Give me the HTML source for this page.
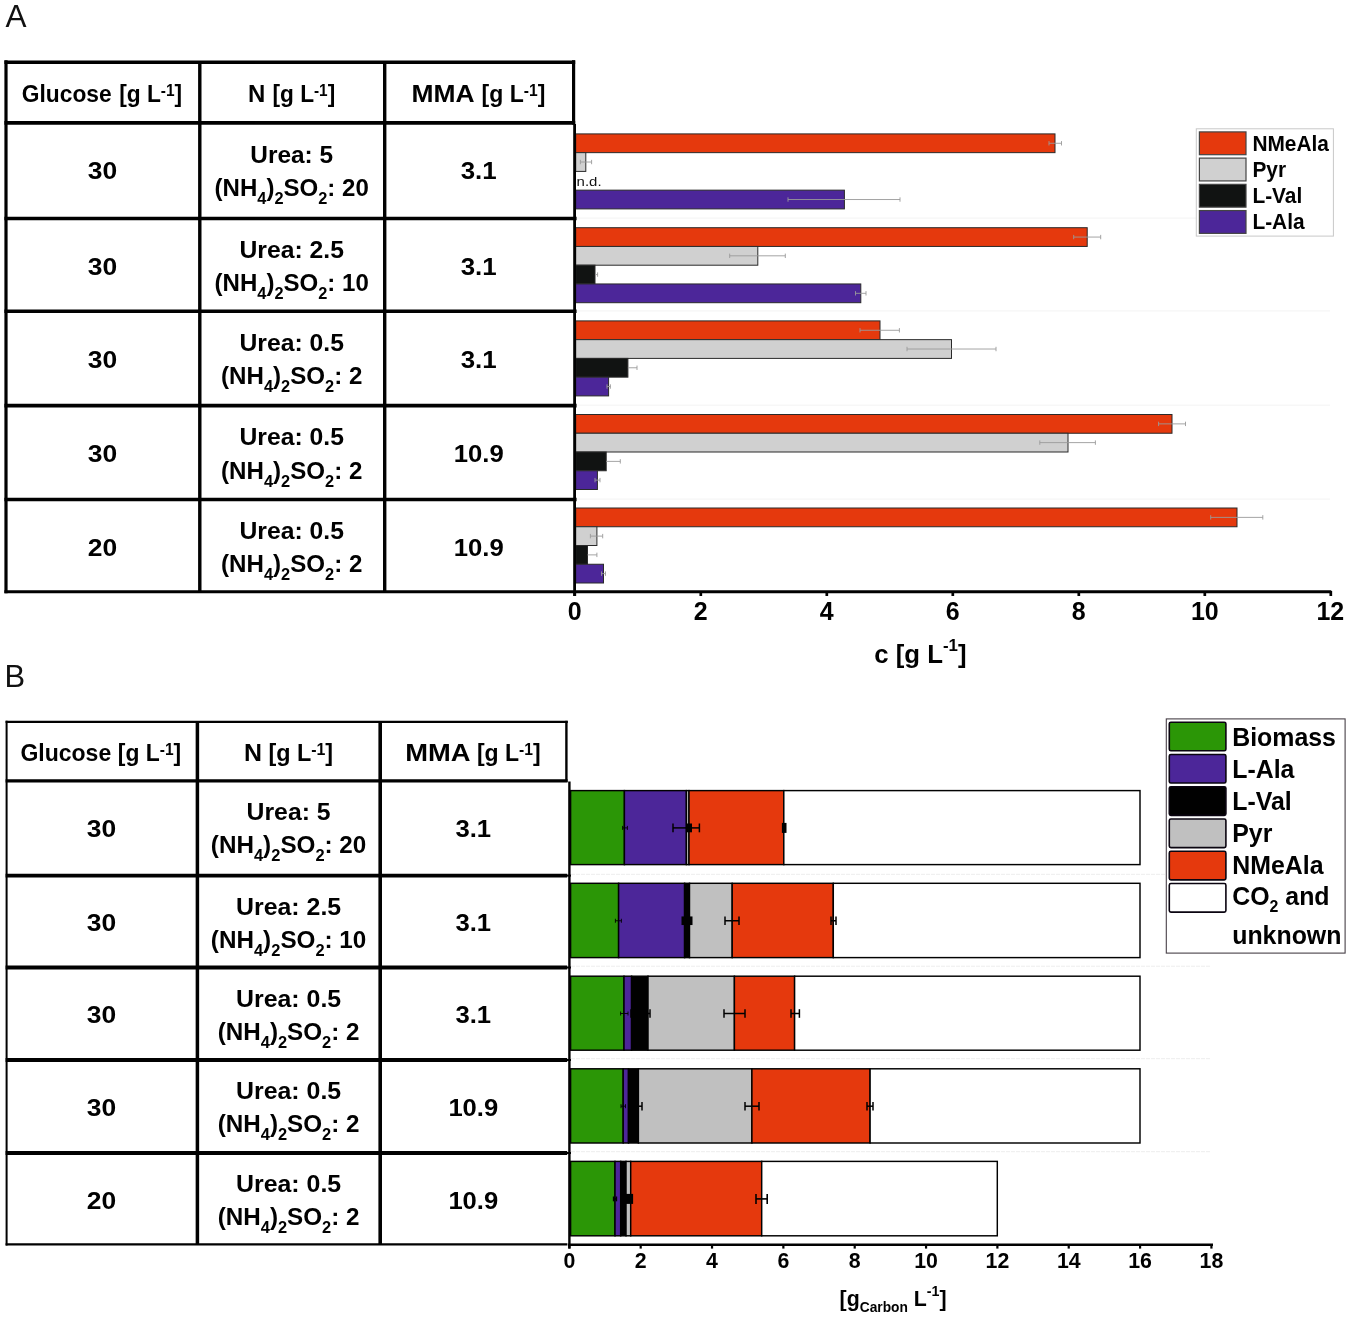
<!DOCTYPE html>
<html><head><meta charset="utf-8"><title>Figure</title>
<style>
html,body{margin:0;padding:0;background:#fff;}
body{width:1350px;height:1317px;overflow:hidden;}
svg{display:block;font-family:"Liberation Sans",sans-serif;will-change:transform;opacity:0.9999;}
</style></head><body>
<svg width="1350" height="1317" viewBox="0 0 1350 1317" font-family="Liberation Sans, sans-serif">
<rect x="0" y="0" width="1350" height="1317" fill="#fff"/>
<text x="5.4" y="27" font-size="31.5" font-weight="normal" fill="#111">A</text>
<text x="4.6" y="687" font-size="31.2" font-weight="normal" fill="#111" textLength="20.6" lengthAdjust="spacingAndGlyphs">B</text>
<line x1="4.40" y1="62.20" x2="575.20" y2="62.20" stroke="#000" stroke-width="3.5" />
<line x1="4.40" y1="122.80" x2="575.20" y2="122.80" stroke="#000" stroke-width="3.8" />
<line x1="4.40" y1="218.50" x2="576.60" y2="218.50" stroke="#000" stroke-width="3.6" />
<line x1="4.40" y1="311.30" x2="576.60" y2="311.30" stroke="#000" stroke-width="3.6" />
<line x1="4.40" y1="405.60" x2="576.60" y2="405.60" stroke="#000" stroke-width="3.6" />
<line x1="4.40" y1="499.50" x2="576.60" y2="499.50" stroke="#000" stroke-width="3.6" />
<line x1="4.40" y1="591.80" x2="1331.30" y2="591.80" stroke="#000" stroke-width="3.0" />
<line x1="6.00" y1="60.20" x2="6.00" y2="593.20" stroke="#000" stroke-width="3.2" />
<line x1="199.80" y1="62.00" x2="199.80" y2="592.00" stroke="#000" stroke-width="3.4" />
<line x1="384.70" y1="62.00" x2="384.70" y2="592.00" stroke="#000" stroke-width="3.4" />
<line x1="573.60" y1="60.20" x2="573.60" y2="124.60" stroke="#000" stroke-width="3.2" />
<line x1="574.70" y1="124.00" x2="574.70" y2="596.00" stroke="#000" stroke-width="2.5" />
<text x="21.80" y="102.00" font-size="24.7" font-weight="bold" fill="#000" textLength="89.80" lengthAdjust="spacingAndGlyphs" >Glucose</text>
<text x="119.20" y="102.00" font-size="24.7" font-weight="bold" fill="#000" textLength="63.00" lengthAdjust="spacingAndGlyphs" >[g L<tspan font-size="16.8" dy="-5.6">-1</tspan><tspan dy="5.6">]</tspan></text>
<text x="247.90" y="102.00" font-size="24.7" font-weight="bold" fill="#000" textLength="17.30" lengthAdjust="spacingAndGlyphs" >N</text>
<text x="272.50" y="102.00" font-size="24.7" font-weight="bold" fill="#000" textLength="62.70" lengthAdjust="spacingAndGlyphs" >[g L<tspan font-size="16.8" dy="-5.6">-1</tspan><tspan dy="5.6">]</tspan></text>
<text x="411.50" y="102.00" font-size="24.7" font-weight="bold" fill="#000" textLength="63.10" lengthAdjust="spacingAndGlyphs" >MMA</text>
<text x="481.60" y="102.00" font-size="24.7" font-weight="bold" fill="#000" textLength="63.70" lengthAdjust="spacingAndGlyphs" >[g L<tspan font-size="16.8" dy="-5.6">-1</tspan><tspan dy="5.6">]</tspan></text>
<text x="87.80" y="179.00" font-size="24.7" font-weight="bold" fill="#000" textLength="29.40" lengthAdjust="spacingAndGlyphs" >30</text>
<text x="250.30" y="162.50" font-size="24.7" font-weight="bold" fill="#000" textLength="82.80" lengthAdjust="spacingAndGlyphs" >Urea: 5</text>
<text x="214.60" y="195.70" font-size="24.7" font-weight="bold" fill="#000" textLength="154.20" lengthAdjust="spacingAndGlyphs" >(NH<tspan font-size="16.8" dy="8">4</tspan><tspan dy="-8">)</tspan><tspan font-size="16.8" dy="8">2</tspan><tspan dy="-8">SO</tspan><tspan font-size="16.8" dy="8">2</tspan><tspan dy="-8">: 20</tspan></text>
<text x="460.70" y="179.00" font-size="24.7" font-weight="bold" fill="#000" textLength="36.00" lengthAdjust="spacingAndGlyphs" >3.1</text>
<text x="87.80" y="274.70" font-size="24.7" font-weight="bold" fill="#000" textLength="29.40" lengthAdjust="spacingAndGlyphs" >30</text>
<text x="239.50" y="258.20" font-size="24.7" font-weight="bold" fill="#000" textLength="104.40" lengthAdjust="spacingAndGlyphs" >Urea: 2.5</text>
<text x="214.60" y="291.40" font-size="24.7" font-weight="bold" fill="#000" textLength="154.20" lengthAdjust="spacingAndGlyphs" >(NH<tspan font-size="16.8" dy="8">4</tspan><tspan dy="-8">)</tspan><tspan font-size="16.8" dy="8">2</tspan><tspan dy="-8">SO</tspan><tspan font-size="16.8" dy="8">2</tspan><tspan dy="-8">: 10</tspan></text>
<text x="460.70" y="274.70" font-size="24.7" font-weight="bold" fill="#000" textLength="36.00" lengthAdjust="spacingAndGlyphs" >3.1</text>
<text x="87.80" y="367.50" font-size="24.7" font-weight="bold" fill="#000" textLength="29.40" lengthAdjust="spacingAndGlyphs" >30</text>
<text x="239.50" y="351.00" font-size="24.7" font-weight="bold" fill="#000" textLength="104.40" lengthAdjust="spacingAndGlyphs" >Urea: 0.5</text>
<text x="221.10" y="384.20" font-size="24.7" font-weight="bold" fill="#000" textLength="141.20" lengthAdjust="spacingAndGlyphs" >(NH<tspan font-size="16.8" dy="8">4</tspan><tspan dy="-8">)</tspan><tspan font-size="16.8" dy="8">2</tspan><tspan dy="-8">SO</tspan><tspan font-size="16.8" dy="8">2</tspan><tspan dy="-8">: 2</tspan></text>
<text x="460.70" y="367.50" font-size="24.7" font-weight="bold" fill="#000" textLength="36.00" lengthAdjust="spacingAndGlyphs" >3.1</text>
<text x="87.80" y="461.80" font-size="24.7" font-weight="bold" fill="#000" textLength="29.40" lengthAdjust="spacingAndGlyphs" >30</text>
<text x="239.50" y="445.30" font-size="24.7" font-weight="bold" fill="#000" textLength="104.40" lengthAdjust="spacingAndGlyphs" >Urea: 0.5</text>
<text x="221.10" y="478.50" font-size="24.7" font-weight="bold" fill="#000" textLength="141.20" lengthAdjust="spacingAndGlyphs" >(NH<tspan font-size="16.8" dy="8">4</tspan><tspan dy="-8">)</tspan><tspan font-size="16.8" dy="8">2</tspan><tspan dy="-8">SO</tspan><tspan font-size="16.8" dy="8">2</tspan><tspan dy="-8">: 2</tspan></text>
<text x="453.70" y="461.80" font-size="24.7" font-weight="bold" fill="#000" textLength="50.00" lengthAdjust="spacingAndGlyphs" >10.9</text>
<text x="87.80" y="555.70" font-size="24.7" font-weight="bold" fill="#000" textLength="29.40" lengthAdjust="spacingAndGlyphs" >20</text>
<text x="239.50" y="539.20" font-size="24.7" font-weight="bold" fill="#000" textLength="104.40" lengthAdjust="spacingAndGlyphs" >Urea: 0.5</text>
<text x="221.10" y="572.40" font-size="24.7" font-weight="bold" fill="#000" textLength="141.20" lengthAdjust="spacingAndGlyphs" >(NH<tspan font-size="16.8" dy="8">4</tspan><tspan dy="-8">)</tspan><tspan font-size="16.8" dy="8">2</tspan><tspan dy="-8">SO</tspan><tspan font-size="16.8" dy="8">2</tspan><tspan dy="-8">: 2</tspan></text>
<text x="453.70" y="555.70" font-size="24.7" font-weight="bold" fill="#000" textLength="50.00" lengthAdjust="spacingAndGlyphs" >10.9</text>
<line x1="577.00" y1="218.10" x2="1330.00" y2="218.10" stroke="#f3f3f3" stroke-width="1" />
<line x1="577.00" y1="310.90" x2="1330.00" y2="310.90" stroke="#f3f3f3" stroke-width="1" />
<line x1="577.00" y1="405.20" x2="1330.00" y2="405.20" stroke="#f3f3f3" stroke-width="1" />
<line x1="577.00" y1="499.10" x2="1330.00" y2="499.10" stroke="#f3f3f3" stroke-width="1" />
<rect x="575.70" y="133.90" width="479.30" height="18.75" fill="#E5390D" stroke="#2a2a2a" stroke-width="1.0"/>
<rect x="575.70" y="152.65" width="10.10" height="18.75" fill="#D0D0D0" stroke="#2a2a2a" stroke-width="1.0"/>
<rect x="575.70" y="190.15" width="268.70" height="18.75" fill="#4C2699" stroke="#2a2a2a" stroke-width="1.0"/>
<line x1="1049.00" y1="143.28" x2="1061.50" y2="143.28" stroke="#9a9a9a" stroke-width="0.9" />
<line x1="1049.00" y1="141.08" x2="1049.00" y2="145.47" stroke="#9a9a9a" stroke-width="0.9" />
<line x1="1061.50" y1="141.08" x2="1061.50" y2="145.47" stroke="#9a9a9a" stroke-width="0.9" />
<line x1="580.40" y1="162.03" x2="591.60" y2="162.03" stroke="#9a9a9a" stroke-width="0.9" />
<line x1="580.40" y1="159.83" x2="580.40" y2="164.22" stroke="#9a9a9a" stroke-width="0.9" />
<line x1="591.60" y1="159.83" x2="591.60" y2="164.22" stroke="#9a9a9a" stroke-width="0.9" />
<line x1="788.00" y1="199.53" x2="900.00" y2="199.53" stroke="#9a9a9a" stroke-width="0.9" />
<line x1="788.00" y1="197.33" x2="788.00" y2="201.72" stroke="#9a9a9a" stroke-width="0.9" />
<line x1="900.00" y1="197.33" x2="900.00" y2="201.72" stroke="#9a9a9a" stroke-width="0.9" />
<rect x="575.70" y="227.70" width="511.50" height="18.75" fill="#E5390D" stroke="#2a2a2a" stroke-width="1.0"/>
<rect x="575.70" y="246.45" width="182.10" height="18.75" fill="#D0D0D0" stroke="#2a2a2a" stroke-width="1.0"/>
<rect x="575.70" y="265.20" width="19.30" height="18.75" fill="#111312" stroke="#2a2a2a" stroke-width="1.0"/>
<rect x="575.70" y="283.95" width="285.10" height="18.75" fill="#4C2699" stroke="#2a2a2a" stroke-width="1.0"/>
<line x1="1073.70" y1="237.07" x2="1100.70" y2="237.07" stroke="#9a9a9a" stroke-width="0.9" />
<line x1="1073.70" y1="234.88" x2="1073.70" y2="239.27" stroke="#9a9a9a" stroke-width="0.9" />
<line x1="1100.70" y1="234.88" x2="1100.70" y2="239.27" stroke="#9a9a9a" stroke-width="0.9" />
<line x1="729.70" y1="255.82" x2="785.30" y2="255.82" stroke="#9a9a9a" stroke-width="0.9" />
<line x1="729.70" y1="253.62" x2="729.70" y2="258.02" stroke="#9a9a9a" stroke-width="0.9" />
<line x1="785.30" y1="253.62" x2="785.30" y2="258.02" stroke="#9a9a9a" stroke-width="0.9" />
<line x1="595.00" y1="274.57" x2="597.60" y2="274.57" stroke="#9a9a9a" stroke-width="0.9" />
<line x1="597.60" y1="272.38" x2="597.60" y2="276.77" stroke="#9a9a9a" stroke-width="0.9" />
<line x1="855.50" y1="293.32" x2="866.00" y2="293.32" stroke="#9a9a9a" stroke-width="0.9" />
<line x1="855.50" y1="291.12" x2="855.50" y2="295.52" stroke="#9a9a9a" stroke-width="0.9" />
<line x1="866.00" y1="291.12" x2="866.00" y2="295.52" stroke="#9a9a9a" stroke-width="0.9" />
<rect x="575.70" y="320.90" width="304.30" height="18.75" fill="#E5390D" stroke="#2a2a2a" stroke-width="1.0"/>
<rect x="575.70" y="339.65" width="375.80" height="18.75" fill="#D0D0D0" stroke="#2a2a2a" stroke-width="1.0"/>
<rect x="575.70" y="358.40" width="52.20" height="18.75" fill="#111312" stroke="#2a2a2a" stroke-width="1.0"/>
<rect x="575.70" y="377.15" width="32.90" height="18.75" fill="#4C2699" stroke="#2a2a2a" stroke-width="1.0"/>
<line x1="860.00" y1="330.27" x2="899.40" y2="330.27" stroke="#9a9a9a" stroke-width="0.9" />
<line x1="860.00" y1="328.07" x2="860.00" y2="332.47" stroke="#9a9a9a" stroke-width="0.9" />
<line x1="899.40" y1="328.07" x2="899.40" y2="332.47" stroke="#9a9a9a" stroke-width="0.9" />
<line x1="907.00" y1="349.02" x2="996.00" y2="349.02" stroke="#9a9a9a" stroke-width="0.9" />
<line x1="907.00" y1="346.82" x2="907.00" y2="351.22" stroke="#9a9a9a" stroke-width="0.9" />
<line x1="996.00" y1="346.82" x2="996.00" y2="351.22" stroke="#9a9a9a" stroke-width="0.9" />
<line x1="627.90" y1="367.77" x2="637.00" y2="367.77" stroke="#9a9a9a" stroke-width="0.9" />
<line x1="637.00" y1="365.57" x2="637.00" y2="369.97" stroke="#9a9a9a" stroke-width="0.9" />
<line x1="607.00" y1="386.52" x2="610.40" y2="386.52" stroke="#9a9a9a" stroke-width="0.9" />
<line x1="607.00" y1="384.32" x2="607.00" y2="388.72" stroke="#9a9a9a" stroke-width="0.9" />
<line x1="610.40" y1="384.32" x2="610.40" y2="388.72" stroke="#9a9a9a" stroke-width="0.9" />
<rect x="575.70" y="414.50" width="596.30" height="18.75" fill="#E5390D" stroke="#2a2a2a" stroke-width="1.0"/>
<rect x="575.70" y="433.25" width="492.30" height="18.75" fill="#D0D0D0" stroke="#2a2a2a" stroke-width="1.0"/>
<rect x="575.70" y="452.00" width="30.50" height="18.75" fill="#111312" stroke="#2a2a2a" stroke-width="1.0"/>
<rect x="575.70" y="470.75" width="21.70" height="18.75" fill="#4C2699" stroke="#2a2a2a" stroke-width="1.0"/>
<line x1="1158.60" y1="423.88" x2="1185.50" y2="423.88" stroke="#9a9a9a" stroke-width="0.9" />
<line x1="1158.60" y1="421.68" x2="1158.60" y2="426.07" stroke="#9a9a9a" stroke-width="0.9" />
<line x1="1185.50" y1="421.68" x2="1185.50" y2="426.07" stroke="#9a9a9a" stroke-width="0.9" />
<line x1="1039.80" y1="442.62" x2="1095.40" y2="442.62" stroke="#9a9a9a" stroke-width="0.9" />
<line x1="1039.80" y1="440.43" x2="1039.80" y2="444.82" stroke="#9a9a9a" stroke-width="0.9" />
<line x1="1095.40" y1="440.43" x2="1095.40" y2="444.82" stroke="#9a9a9a" stroke-width="0.9" />
<line x1="606.20" y1="461.38" x2="620.30" y2="461.38" stroke="#9a9a9a" stroke-width="0.9" />
<line x1="620.30" y1="459.18" x2="620.30" y2="463.57" stroke="#9a9a9a" stroke-width="0.9" />
<line x1="595.00" y1="480.12" x2="600.00" y2="480.12" stroke="#9a9a9a" stroke-width="0.9" />
<line x1="595.00" y1="477.93" x2="595.00" y2="482.32" stroke="#9a9a9a" stroke-width="0.9" />
<line x1="600.00" y1="477.93" x2="600.00" y2="482.32" stroke="#9a9a9a" stroke-width="0.9" />
<rect x="575.70" y="508.00" width="661.30" height="18.75" fill="#E5390D" stroke="#2a2a2a" stroke-width="1.0"/>
<rect x="575.70" y="526.75" width="21.20" height="18.75" fill="#D0D0D0" stroke="#2a2a2a" stroke-width="1.0"/>
<rect x="575.70" y="545.50" width="11.80" height="18.75" fill="#111312" stroke="#2a2a2a" stroke-width="1.0"/>
<rect x="575.70" y="564.25" width="27.80" height="18.75" fill="#4C2699" stroke="#2a2a2a" stroke-width="1.0"/>
<line x1="1210.70" y1="517.38" x2="1262.80" y2="517.38" stroke="#9a9a9a" stroke-width="0.9" />
<line x1="1210.70" y1="515.17" x2="1210.70" y2="519.58" stroke="#9a9a9a" stroke-width="0.9" />
<line x1="1262.80" y1="515.17" x2="1262.80" y2="519.58" stroke="#9a9a9a" stroke-width="0.9" />
<line x1="590.40" y1="536.12" x2="602.70" y2="536.12" stroke="#9a9a9a" stroke-width="0.9" />
<line x1="590.40" y1="533.92" x2="590.40" y2="538.33" stroke="#9a9a9a" stroke-width="0.9" />
<line x1="602.70" y1="533.92" x2="602.70" y2="538.33" stroke="#9a9a9a" stroke-width="0.9" />
<line x1="587.50" y1="554.88" x2="596.90" y2="554.88" stroke="#9a9a9a" stroke-width="0.9" />
<line x1="596.90" y1="552.67" x2="596.90" y2="557.08" stroke="#9a9a9a" stroke-width="0.9" />
<line x1="601.50" y1="573.62" x2="605.50" y2="573.62" stroke="#9a9a9a" stroke-width="0.9" />
<line x1="601.50" y1="571.42" x2="601.50" y2="575.83" stroke="#9a9a9a" stroke-width="0.9" />
<line x1="605.50" y1="571.42" x2="605.50" y2="575.83" stroke="#9a9a9a" stroke-width="0.9" />
<text x="576.60" y="186.40" font-size="13.5" font-weight="normal" fill="#111" textLength="25.00" lengthAdjust="spacingAndGlyphs" >n.d.</text>
<line x1="574.70" y1="124.00" x2="574.70" y2="596.00" stroke="#000" stroke-width="2.5" />
<line x1="574.80" y1="591.00" x2="574.80" y2="596.00" stroke="#000" stroke-width="2.7" />
<text transform="translate(574.80,620.00) scale(0.9600,1)" font-size="26" font-weight="bold" fill="#000" text-anchor="middle">0</text>
<line x1="700.80" y1="591.00" x2="700.80" y2="596.00" stroke="#000" stroke-width="2.7" />
<text transform="translate(700.80,620.00) scale(0.9600,1)" font-size="26" font-weight="bold" fill="#000" text-anchor="middle">2</text>
<line x1="826.80" y1="591.00" x2="826.80" y2="596.00" stroke="#000" stroke-width="2.7" />
<text transform="translate(826.80,620.00) scale(0.9600,1)" font-size="26" font-weight="bold" fill="#000" text-anchor="middle">4</text>
<line x1="952.80" y1="591.00" x2="952.80" y2="596.00" stroke="#000" stroke-width="2.7" />
<text transform="translate(952.80,620.00) scale(0.9600,1)" font-size="26" font-weight="bold" fill="#000" text-anchor="middle">6</text>
<line x1="1078.80" y1="591.00" x2="1078.80" y2="596.00" stroke="#000" stroke-width="2.7" />
<text transform="translate(1078.80,620.00) scale(0.9600,1)" font-size="26" font-weight="bold" fill="#000" text-anchor="middle">8</text>
<line x1="1204.80" y1="591.00" x2="1204.80" y2="596.00" stroke="#000" stroke-width="2.7" />
<text transform="translate(1204.80,620.00) scale(0.9600,1)" font-size="26" font-weight="bold" fill="#000" text-anchor="middle">10</text>
<line x1="1330.80" y1="591.00" x2="1330.80" y2="596.00" stroke="#000" stroke-width="2.7" />
<text transform="translate(1330.30,620.00) scale(0.9600,1)" font-size="26" font-weight="bold" fill="#000" text-anchor="middle">12</text>
<text x="874.30" y="662.60" font-size="25.4" font-weight="bold" fill="#000" textLength="92.30" lengthAdjust="spacingAndGlyphs" >c [g L<tspan font-size="16.6" dy="-11.2">-1</tspan><tspan dy="11.2">]</tspan></text>
<rect x="1196.30" y="128.80" width="137.10" height="107.30" fill="#fff" stroke="#c8c8c8" stroke-width="1.0"/>
<rect x="1199.40" y="131.90" width="46.60" height="22.80" fill="#E5390D" stroke="#444" stroke-width="1.2"/>
<text transform="translate(1252.40,150.90) scale(0.9760,1)" font-size="21.4" font-weight="bold" fill="#000" text-anchor="start">NMeAla</text>
<rect x="1199.40" y="158.12" width="46.60" height="22.80" fill="#D0D0D0" stroke="#444" stroke-width="1.2"/>
<text transform="translate(1252.40,176.95) scale(0.9760,1)" font-size="21.4" font-weight="bold" fill="#000" text-anchor="start">Pyr</text>
<rect x="1199.40" y="184.34" width="46.60" height="22.80" fill="#111312" stroke="#444" stroke-width="1.2"/>
<text transform="translate(1252.40,203.00) scale(0.9760,1)" font-size="21.4" font-weight="bold" fill="#000" text-anchor="start">L-Val</text>
<rect x="1199.40" y="210.56" width="46.60" height="22.80" fill="#4C2699" stroke="#444" stroke-width="1.2"/>
<text transform="translate(1252.40,229.05) scale(0.9760,1)" font-size="21.4" font-weight="bold" fill="#000" text-anchor="start">L-Ala</text>
<line x1="5.60" y1="721.90" x2="567.80" y2="721.90" stroke="#000" stroke-width="2.4" />
<line x1="5.60" y1="780.90" x2="567.60" y2="780.90" stroke="#000" stroke-width="3.4" />
<line x1="5.60" y1="875.60" x2="567.20" y2="875.60" stroke="#000" stroke-width="3.8" />
<line x1="567.00" y1="875.60" x2="571.00" y2="875.60" stroke="#000" stroke-width="2.0" />
<line x1="5.60" y1="967.50" x2="567.20" y2="967.50" stroke="#000" stroke-width="3.8" />
<line x1="567.00" y1="967.50" x2="571.00" y2="967.50" stroke="#000" stroke-width="2.0" />
<line x1="5.60" y1="1060.00" x2="567.20" y2="1060.00" stroke="#000" stroke-width="3.8" />
<line x1="567.00" y1="1060.00" x2="571.00" y2="1060.00" stroke="#000" stroke-width="2.0" />
<line x1="5.60" y1="1153.00" x2="567.20" y2="1153.00" stroke="#000" stroke-width="3.8" />
<line x1="567.00" y1="1153.00" x2="571.00" y2="1153.00" stroke="#000" stroke-width="2.0" />
<line x1="5.60" y1="1244.40" x2="567.40" y2="1244.40" stroke="#000" stroke-width="2.2" />
<line x1="6.60" y1="720.80" x2="6.60" y2="1245.50" stroke="#000" stroke-width="2.0" />
<line x1="197.40" y1="722.00" x2="197.40" y2="1245.00" stroke="#000" stroke-width="3.5" />
<line x1="380.20" y1="722.00" x2="380.20" y2="1245.00" stroke="#000" stroke-width="3.6" />
<line x1="566.40" y1="720.80" x2="566.40" y2="782.00" stroke="#000" stroke-width="2.4" />
<text x="20.40" y="760.60" font-size="24.7" font-weight="bold" fill="#000" textLength="90.80" lengthAdjust="spacingAndGlyphs" >Glucose</text>
<text x="117.80" y="760.60" font-size="24.7" font-weight="bold" fill="#000" textLength="63.40" lengthAdjust="spacingAndGlyphs" >[g L<tspan font-size="16.8" dy="-5.6">-1</tspan><tspan dy="5.6">]</tspan></text>
<text x="244.10" y="760.60" font-size="24.7" font-weight="bold" fill="#000" textLength="18.00" lengthAdjust="spacingAndGlyphs" >N</text>
<text x="268.40" y="760.60" font-size="24.7" font-weight="bold" fill="#000" textLength="64.70" lengthAdjust="spacingAndGlyphs" >[g L<tspan font-size="16.8" dy="-5.6">-1</tspan><tspan dy="5.6">]</tspan></text>
<text x="405.30" y="760.60" font-size="24.7" font-weight="bold" fill="#000" textLength="65.30" lengthAdjust="spacingAndGlyphs" >MMA</text>
<text x="476.90" y="760.60" font-size="24.7" font-weight="bold" fill="#000" textLength="63.70" lengthAdjust="spacingAndGlyphs" >[g L<tspan font-size="16.8" dy="-5.6">-1</tspan><tspan dy="5.6">]</tspan></text>
<text x="86.80" y="836.50" font-size="24.7" font-weight="bold" fill="#000" textLength="29.40" lengthAdjust="spacingAndGlyphs" >30</text>
<text x="246.60" y="820.10" font-size="24.7" font-weight="bold" fill="#000" textLength="84.00" lengthAdjust="spacingAndGlyphs" >Urea: 5</text>
<text x="210.85" y="852.90" font-size="24.7" font-weight="bold" fill="#000" textLength="155.50" lengthAdjust="spacingAndGlyphs" >(NH<tspan font-size="16.8" dy="8">4</tspan><tspan dy="-8">)</tspan><tspan font-size="16.8" dy="8">2</tspan><tspan dy="-8">SO</tspan><tspan font-size="16.8" dy="8">2</tspan><tspan dy="-8">: 20</tspan></text>
<text x="455.45" y="836.50" font-size="24.7" font-weight="bold" fill="#000" textLength="35.70" lengthAdjust="spacingAndGlyphs" >3.1</text>
<text x="86.80" y="931.20" font-size="24.7" font-weight="bold" fill="#000" textLength="29.40" lengthAdjust="spacingAndGlyphs" >30</text>
<text x="236.05" y="914.80" font-size="24.7" font-weight="bold" fill="#000" textLength="105.10" lengthAdjust="spacingAndGlyphs" >Urea: 2.5</text>
<text x="210.85" y="947.60" font-size="24.7" font-weight="bold" fill="#000" textLength="155.50" lengthAdjust="spacingAndGlyphs" >(NH<tspan font-size="16.8" dy="8">4</tspan><tspan dy="-8">)</tspan><tspan font-size="16.8" dy="8">2</tspan><tspan dy="-8">SO</tspan><tspan font-size="16.8" dy="8">2</tspan><tspan dy="-8">: 10</tspan></text>
<text x="455.45" y="931.20" font-size="24.7" font-weight="bold" fill="#000" textLength="35.70" lengthAdjust="spacingAndGlyphs" >3.1</text>
<text x="86.80" y="1023.10" font-size="24.7" font-weight="bold" fill="#000" textLength="29.40" lengthAdjust="spacingAndGlyphs" >30</text>
<text x="236.05" y="1006.70" font-size="24.7" font-weight="bold" fill="#000" textLength="105.10" lengthAdjust="spacingAndGlyphs" >Urea: 0.5</text>
<text x="217.70" y="1039.50" font-size="24.7" font-weight="bold" fill="#000" textLength="141.80" lengthAdjust="spacingAndGlyphs" >(NH<tspan font-size="16.8" dy="8">4</tspan><tspan dy="-8">)</tspan><tspan font-size="16.8" dy="8">2</tspan><tspan dy="-8">SO</tspan><tspan font-size="16.8" dy="8">2</tspan><tspan dy="-8">: 2</tspan></text>
<text x="455.45" y="1023.10" font-size="24.7" font-weight="bold" fill="#000" textLength="35.70" lengthAdjust="spacingAndGlyphs" >3.1</text>
<text x="86.80" y="1115.60" font-size="24.7" font-weight="bold" fill="#000" textLength="29.40" lengthAdjust="spacingAndGlyphs" >30</text>
<text x="236.05" y="1099.20" font-size="24.7" font-weight="bold" fill="#000" textLength="105.10" lengthAdjust="spacingAndGlyphs" >Urea: 0.5</text>
<text x="217.70" y="1132.00" font-size="24.7" font-weight="bold" fill="#000" textLength="141.80" lengthAdjust="spacingAndGlyphs" >(NH<tspan font-size="16.8" dy="8">4</tspan><tspan dy="-8">)</tspan><tspan font-size="16.8" dy="8">2</tspan><tspan dy="-8">SO</tspan><tspan font-size="16.8" dy="8">2</tspan><tspan dy="-8">: 2</tspan></text>
<text x="448.40" y="1115.60" font-size="24.7" font-weight="bold" fill="#000" textLength="49.80" lengthAdjust="spacingAndGlyphs" >10.9</text>
<text x="86.80" y="1208.60" font-size="24.7" font-weight="bold" fill="#000" textLength="29.40" lengthAdjust="spacingAndGlyphs" >20</text>
<text x="236.05" y="1192.20" font-size="24.7" font-weight="bold" fill="#000" textLength="105.10" lengthAdjust="spacingAndGlyphs" >Urea: 0.5</text>
<text x="217.70" y="1225.00" font-size="24.7" font-weight="bold" fill="#000" textLength="141.80" lengthAdjust="spacingAndGlyphs" >(NH<tspan font-size="16.8" dy="8">4</tspan><tspan dy="-8">)</tspan><tspan font-size="16.8" dy="8">2</tspan><tspan dy="-8">SO</tspan><tspan font-size="16.8" dy="8">2</tspan><tspan dy="-8">: 2</tspan></text>
<text x="448.40" y="1208.60" font-size="24.7" font-weight="bold" fill="#000" textLength="49.80" lengthAdjust="spacingAndGlyphs" >10.9</text>
<line x1="571.00" y1="874.30" x2="1211.00" y2="874.30" stroke="#ededed" stroke-width="1" stroke-dasharray="4 1"/>
<line x1="571.00" y1="966.20" x2="1211.00" y2="966.20" stroke="#ededed" stroke-width="1" stroke-dasharray="4 1"/>
<line x1="571.00" y1="1058.70" x2="1211.00" y2="1058.70" stroke="#ededed" stroke-width="1" stroke-dasharray="4 1"/>
<line x1="571.00" y1="1151.70" x2="1211.00" y2="1151.70" stroke="#ededed" stroke-width="1" stroke-dasharray="4 1"/>
<rect x="570.60" y="790.60" width="53.80" height="74.00" fill="#2B9606" stroke="#000" stroke-width="1.45"/>
<rect x="624.40" y="790.60" width="62.00" height="74.00" fill="#4C2699" stroke="#000" stroke-width="1.45"/>
<rect x="686.40" y="790.60" width="2.60" height="74.00" fill="#C0C0C0" stroke="#000" stroke-width="1.45"/>
<rect x="689.00" y="790.60" width="94.80" height="74.00" fill="#E5390D" stroke="#000" stroke-width="1.45"/>
<rect x="783.80" y="790.60" width="356.20" height="74.00" fill="#FFFFFF" stroke="#000" stroke-width="1.45"/>
<line x1="622.60" y1="827.90" x2="627.40" y2="827.90" stroke="#000" stroke-width="0.9" />
<line x1="622.60" y1="825.90" x2="622.60" y2="829.90" stroke="#000" stroke-width="0.9" />
<line x1="627.40" y1="825.90" x2="627.40" y2="829.90" stroke="#000" stroke-width="0.9" />
<line x1="673.00" y1="827.90" x2="699.40" y2="827.90" stroke="#000" stroke-width="1.5" />
<line x1="673.00" y1="823.50" x2="673.00" y2="832.30" stroke="#000" stroke-width="1.5" />
<line x1="699.40" y1="823.50" x2="699.40" y2="832.30" stroke="#000" stroke-width="1.5" />
<rect x="686.00" y="823.50" width="6.00" height="8.80" fill="#000"/>
<rect x="781.90" y="822.90" width="4.60" height="10.00" fill="#000"/>
<rect x="570.60" y="883.30" width="48.00" height="74.30" fill="#2B9606" stroke="#000" stroke-width="1.45"/>
<rect x="618.60" y="883.30" width="66.00" height="74.30" fill="#4C2699" stroke="#000" stroke-width="1.45"/>
<rect x="684.60" y="883.30" width="4.90" height="74.30" fill="#000000" stroke="#000" stroke-width="1.45"/>
<rect x="689.50" y="883.30" width="42.70" height="74.30" fill="#C0C0C0" stroke="#000" stroke-width="1.45"/>
<rect x="732.20" y="883.30" width="101.10" height="74.30" fill="#E5390D" stroke="#000" stroke-width="1.45"/>
<rect x="833.30" y="883.30" width="306.70" height="74.30" fill="#FFFFFF" stroke="#000" stroke-width="1.45"/>
<line x1="615.40" y1="920.75" x2="621.40" y2="920.75" stroke="#000" stroke-width="0.9" />
<line x1="615.40" y1="918.75" x2="615.40" y2="922.75" stroke="#000" stroke-width="0.9" />
<line x1="621.40" y1="918.75" x2="621.40" y2="922.75" stroke="#000" stroke-width="0.9" />
<rect x="681.50" y="916.45" width="11.00" height="8.60" fill="#000"/>
<line x1="725.00" y1="920.75" x2="739.00" y2="920.75" stroke="#000" stroke-width="1.5" />
<line x1="725.00" y1="916.45" x2="725.00" y2="925.05" stroke="#000" stroke-width="1.5" />
<line x1="739.00" y1="916.45" x2="739.00" y2="925.05" stroke="#000" stroke-width="1.5" />
<line x1="831.00" y1="920.75" x2="836.00" y2="920.75" stroke="#000" stroke-width="1.5" />
<line x1="831.00" y1="916.45" x2="831.00" y2="925.05" stroke="#000" stroke-width="1.5" />
<line x1="836.00" y1="916.45" x2="836.00" y2="925.05" stroke="#000" stroke-width="1.5" />
<rect x="570.60" y="976.20" width="53.40" height="74.00" fill="#2B9606" stroke="#000" stroke-width="1.45"/>
<rect x="624.00" y="976.20" width="7.60" height="74.00" fill="#4C2699" stroke="#000" stroke-width="1.45"/>
<rect x="631.60" y="976.20" width="16.40" height="74.00" fill="#000000" stroke="#000" stroke-width="1.45"/>
<rect x="648.00" y="976.20" width="86.40" height="74.00" fill="#C0C0C0" stroke="#000" stroke-width="1.45"/>
<rect x="734.40" y="976.20" width="60.20" height="74.00" fill="#E5390D" stroke="#000" stroke-width="1.45"/>
<rect x="794.60" y="976.20" width="345.40" height="74.00" fill="#FFFFFF" stroke="#000" stroke-width="1.45"/>
<line x1="620.60" y1="1013.50" x2="628.00" y2="1013.50" stroke="#000" stroke-width="0.9" />
<line x1="620.60" y1="1011.50" x2="620.60" y2="1015.50" stroke="#000" stroke-width="0.9" />
<line x1="628.00" y1="1011.50" x2="628.00" y2="1015.50" stroke="#000" stroke-width="0.9" />
<line x1="631.00" y1="1013.50" x2="650.00" y2="1013.50" stroke="#000" stroke-width="1.5" />
<line x1="631.00" y1="1009.20" x2="631.00" y2="1017.80" stroke="#000" stroke-width="1.5" />
<line x1="650.00" y1="1009.20" x2="650.00" y2="1017.80" stroke="#000" stroke-width="1.5" />
<line x1="724.00" y1="1013.50" x2="745.00" y2="1013.50" stroke="#000" stroke-width="1.5" />
<line x1="724.00" y1="1009.20" x2="724.00" y2="1017.80" stroke="#000" stroke-width="1.5" />
<line x1="745.00" y1="1009.20" x2="745.00" y2="1017.80" stroke="#000" stroke-width="1.5" />
<line x1="791.00" y1="1013.50" x2="799.40" y2="1013.50" stroke="#000" stroke-width="1.5" />
<line x1="791.00" y1="1009.20" x2="791.00" y2="1017.80" stroke="#000" stroke-width="1.5" />
<line x1="799.40" y1="1009.20" x2="799.40" y2="1017.80" stroke="#000" stroke-width="1.5" />
<rect x="570.60" y="1068.80" width="52.60" height="74.20" fill="#2B9606" stroke="#000" stroke-width="1.45"/>
<rect x="623.20" y="1068.80" width="5.30" height="74.20" fill="#4C2699" stroke="#000" stroke-width="1.45"/>
<rect x="628.50" y="1068.80" width="9.90" height="74.20" fill="#000000" stroke="#000" stroke-width="1.45"/>
<rect x="638.40" y="1068.80" width="113.50" height="74.20" fill="#C0C0C0" stroke="#000" stroke-width="1.45"/>
<rect x="751.90" y="1068.80" width="118.20" height="74.20" fill="#E5390D" stroke="#000" stroke-width="1.45"/>
<rect x="870.10" y="1068.80" width="269.90" height="74.20" fill="#FFFFFF" stroke="#000" stroke-width="1.45"/>
<line x1="621.00" y1="1106.20" x2="625.50" y2="1106.20" stroke="#000" stroke-width="0.9" />
<line x1="621.00" y1="1104.20" x2="621.00" y2="1108.20" stroke="#000" stroke-width="0.9" />
<line x1="625.50" y1="1104.20" x2="625.50" y2="1108.20" stroke="#000" stroke-width="0.9" />
<line x1="630.00" y1="1106.20" x2="642.00" y2="1106.20" stroke="#000" stroke-width="1.5" />
<line x1="630.00" y1="1101.90" x2="630.00" y2="1110.50" stroke="#000" stroke-width="1.5" />
<line x1="642.00" y1="1101.90" x2="642.00" y2="1110.50" stroke="#000" stroke-width="1.5" />
<line x1="745.00" y1="1106.20" x2="759.00" y2="1106.20" stroke="#000" stroke-width="1.5" />
<line x1="745.00" y1="1101.90" x2="745.00" y2="1110.50" stroke="#000" stroke-width="1.5" />
<line x1="759.00" y1="1101.90" x2="759.00" y2="1110.50" stroke="#000" stroke-width="1.5" />
<line x1="867.00" y1="1106.20" x2="873.00" y2="1106.20" stroke="#000" stroke-width="1.5" />
<line x1="867.00" y1="1101.90" x2="867.00" y2="1110.50" stroke="#000" stroke-width="1.5" />
<line x1="873.00" y1="1101.90" x2="873.00" y2="1110.50" stroke="#000" stroke-width="1.5" />
<rect x="570.60" y="1161.40" width="44.40" height="74.40" fill="#2B9606" stroke="#000" stroke-width="1.45"/>
<rect x="615.00" y="1161.40" width="5.70" height="74.40" fill="#4C2699" stroke="#000" stroke-width="1.45"/>
<rect x="620.70" y="1161.40" width="5.30" height="74.40" fill="#000000" stroke="#000" stroke-width="1.45"/>
<rect x="626.00" y="1161.40" width="4.70" height="74.40" fill="#C0C0C0" stroke="#000" stroke-width="1.45"/>
<rect x="630.70" y="1161.40" width="131.00" height="74.40" fill="#E5390D" stroke="#000" stroke-width="1.45"/>
<rect x="761.70" y="1161.40" width="235.60" height="74.40" fill="#FFFFFF" stroke="#000" stroke-width="1.45"/>
<line x1="613.60" y1="1198.90" x2="616.40" y2="1198.90" stroke="#000" stroke-width="1.5" />
<line x1="613.60" y1="1196.50" x2="613.60" y2="1201.30" stroke="#000" stroke-width="1.5" />
<line x1="616.40" y1="1196.50" x2="616.40" y2="1201.30" stroke="#000" stroke-width="1.5" />
<rect x="625.30" y="1193.90" width="7.80" height="10.00" fill="#000"/>
<line x1="756.00" y1="1198.90" x2="767.20" y2="1198.90" stroke="#000" stroke-width="1.6" />
<line x1="756.00" y1="1193.90" x2="756.00" y2="1203.90" stroke="#000" stroke-width="1.6" />
<line x1="767.20" y1="1193.90" x2="767.20" y2="1203.90" stroke="#000" stroke-width="1.6" />
<line x1="569.40" y1="781.50" x2="569.40" y2="1248.40" stroke="#000" stroke-width="2.4" />
<line x1="568.20" y1="1244.80" x2="1213.00" y2="1244.80" stroke="#000" stroke-width="2.4" />
<line x1="569.35" y1="1244.00" x2="569.35" y2="1248.60" stroke="#000" stroke-width="2.2" />
<text transform="translate(569.35,1268.30) scale(0.9600,1)" font-size="22.2" font-weight="bold" fill="#000" text-anchor="middle">0</text>
<line x1="640.69" y1="1244.00" x2="640.69" y2="1248.60" stroke="#000" stroke-width="2.2" />
<text transform="translate(640.69,1268.30) scale(0.9600,1)" font-size="22.2" font-weight="bold" fill="#000" text-anchor="middle">2</text>
<line x1="712.03" y1="1244.00" x2="712.03" y2="1248.60" stroke="#000" stroke-width="2.2" />
<text transform="translate(712.03,1268.30) scale(0.9600,1)" font-size="22.2" font-weight="bold" fill="#000" text-anchor="middle">4</text>
<line x1="783.37" y1="1244.00" x2="783.37" y2="1248.60" stroke="#000" stroke-width="2.2" />
<text transform="translate(783.37,1268.30) scale(0.9600,1)" font-size="22.2" font-weight="bold" fill="#000" text-anchor="middle">6</text>
<line x1="854.71" y1="1244.00" x2="854.71" y2="1248.60" stroke="#000" stroke-width="2.2" />
<text transform="translate(854.71,1268.30) scale(0.9600,1)" font-size="22.2" font-weight="bold" fill="#000" text-anchor="middle">8</text>
<line x1="926.05" y1="1244.00" x2="926.05" y2="1248.60" stroke="#000" stroke-width="2.2" />
<text transform="translate(926.05,1268.30) scale(0.9600,1)" font-size="22.2" font-weight="bold" fill="#000" text-anchor="middle">10</text>
<line x1="997.39" y1="1244.00" x2="997.39" y2="1248.60" stroke="#000" stroke-width="2.2" />
<text transform="translate(997.39,1268.30) scale(0.9600,1)" font-size="22.2" font-weight="bold" fill="#000" text-anchor="middle">12</text>
<line x1="1068.73" y1="1244.00" x2="1068.73" y2="1248.60" stroke="#000" stroke-width="2.2" />
<text transform="translate(1068.73,1268.30) scale(0.9600,1)" font-size="22.2" font-weight="bold" fill="#000" text-anchor="middle">14</text>
<line x1="1140.07" y1="1244.00" x2="1140.07" y2="1248.60" stroke="#000" stroke-width="2.2" />
<text transform="translate(1140.07,1268.30) scale(0.9600,1)" font-size="22.2" font-weight="bold" fill="#000" text-anchor="middle">16</text>
<line x1="1211.41" y1="1244.00" x2="1211.41" y2="1248.60" stroke="#000" stroke-width="2.2" />
<text transform="translate(1211.41,1268.30) scale(0.9600,1)" font-size="22.2" font-weight="bold" fill="#000" text-anchor="middle">18</text>
<text x="839.60" y="1305.50" font-size="21.4" font-weight="bold" fill="#000" textLength="107.00" lengthAdjust="spacingAndGlyphs" >[g<tspan font-size="13.8" dy="6">Carbon</tspan><tspan dy="-6"> L</tspan><tspan font-size="14.3" dy="-9.3">-1</tspan><tspan dy="9.3">]</tspan></text>
<rect x="1166.30" y="718.90" width="178.80" height="234.20" fill="#fff" stroke="#484048" stroke-width="1.1"/>
<rect x="1169.3" y="722.20" width="56.6" height="28.6" rx="1.6" fill="#2B9606" stroke="#0a0410" stroke-width="1.6"/>
<rect x="1169.3" y="754.47" width="56.6" height="28.6" rx="1.6" fill="#4C2699" stroke="#0a0410" stroke-width="1.6"/>
<rect x="1169.3" y="786.74" width="56.6" height="28.6" rx="1.6" fill="#000000" stroke="#0a0410" stroke-width="1.6"/>
<rect x="1169.3" y="819.01" width="56.6" height="28.6" rx="1.6" fill="#C0C0C0" stroke="#0a0410" stroke-width="1.6"/>
<rect x="1169.3" y="851.28" width="56.6" height="28.6" rx="1.6" fill="#E5390D" stroke="#0a0410" stroke-width="1.6"/>
<rect x="1169.3" y="883.55" width="56.6" height="28.6" rx="1.6" fill="#fff" stroke="#0a0410" stroke-width="1.6"/>
<text transform="translate(1232.20,745.50) scale(0.9650,1)" font-size="25.8" font-weight="bold" fill="#000" text-anchor="start">Biomass</text>
<text transform="translate(1232.20,777.55) scale(0.9650,1)" font-size="25.8" font-weight="bold" fill="#000" text-anchor="start">L-Ala</text>
<text transform="translate(1232.20,809.60) scale(0.9650,1)" font-size="25.8" font-weight="bold" fill="#000" text-anchor="start">L-Val</text>
<text transform="translate(1232.20,841.65) scale(0.9650,1)" font-size="25.8" font-weight="bold" fill="#000" text-anchor="start">Pyr</text>
<text transform="translate(1232.20,873.70) scale(0.9650,1)" font-size="25.8" font-weight="bold" fill="#000" text-anchor="start">NMeAla</text>
<text transform="translate(1232.20,905.40) scale(0.9650,1)" font-size="25.8" font-weight="bold" fill="#000" text-anchor="start">CO<tspan font-size="16.5" dy="6.5">2</tspan><tspan dy="-6.5"> and</tspan></text>
<text transform="translate(1232.20,943.50) scale(0.9650,1)" font-size="25.8" font-weight="bold" fill="#000" text-anchor="start">unknown</text>
</svg>
</body></html>
